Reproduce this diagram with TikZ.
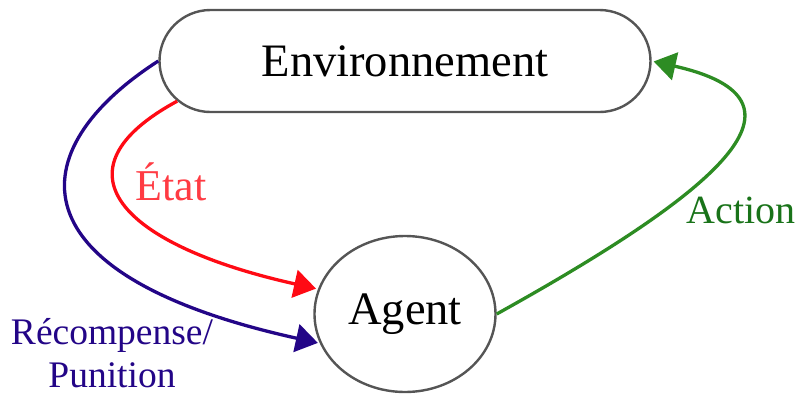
\documentclass[tikz,border=0pt]{standalone}
\usepackage{fontspec}
\setmainfont{Liberation Serif}
\usetikzlibrary{arrows.meta,shapes.misc,shapes.geometric}
\definecolor{etatred}{RGB}{255,10,20}
\definecolor{rewblue}{RGB}{35,5,135}
\definecolor{actgreen}{RGB}{45,140,35}
\definecolor{acttext}{RGB}{25,115,25}
\definecolor{bordergray}{RGB}{85,85,85}
\tikzset{box/.style={draw=bordergray, line width=2.4pt, fill=white, inner sep=0pt}}
\tikzset{flow/.style={line width=3.3pt, shorten >=2pt, -{Triangle[length=22pt,width=28pt]}}}
\tikzset{bigfont/.style={font=\fontsize{46.5}{56}\selectfont}}
\tikzset{lbl/.style={inner sep=0pt}}

\begin{document}
\begin{tikzpicture}[x=1pt,y=-1pt]
\useasboundingbox (0,0) rectangle (798,394);
\node[box, rounded rectangle, minimum width=491pt, minimum height=102pt, bigfont] (env) at (405,61) {Environnement};
\node[box, ellipse, minimum width=181pt, minimum height=156pt, bigfont] (agent) at (405,314) {Agent};

\draw[flow, etatred] (env.190) .. controls (50,170) and (120,245) .. (agent.164);
\draw[flow, rewblue] (env.west) .. controls (20,150) and (10,275) .. (agent.199);
\draw[flow, actgreen] (agent.east) .. controls (720,190) and (825,100) .. (env.east);

\node[lbl, text=etatred!80!white, font=\fontsize{44}{52}\selectfont] (etat) at (171,182) {État};
\node[lbl, text=rewblue, align=center, font=\fontsize{37.5}{43}\selectfont] (rew) at (112,353) {Récompense/\\Punition};
\node[lbl, text=acttext, font=\fontsize{40}{48}\selectfont] (act) at (741,210) {Action};
\end{tikzpicture}
\end{document}
